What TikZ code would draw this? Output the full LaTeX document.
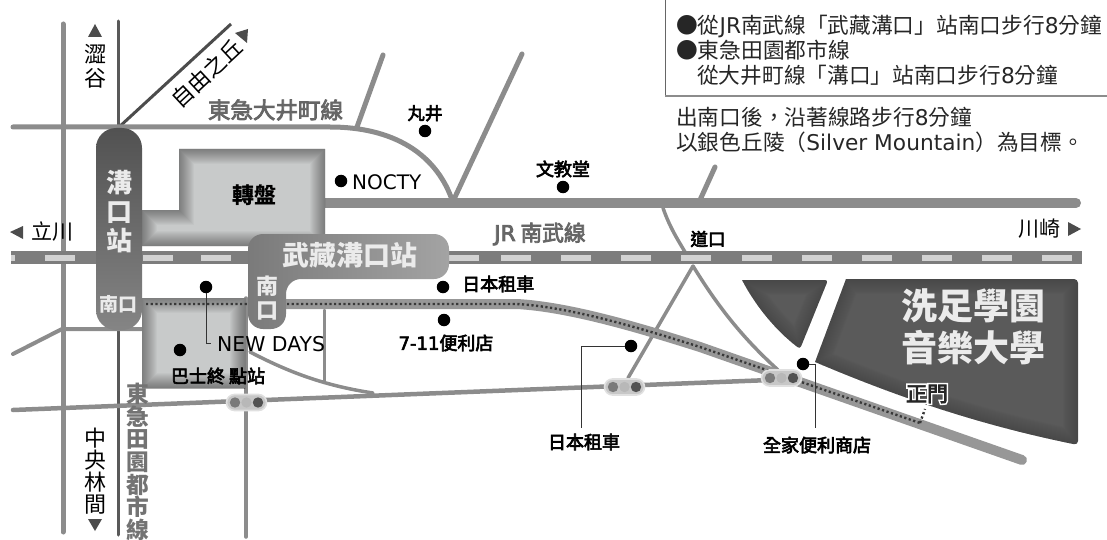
\documentclass[tikz,border=0pt]{standalone}
\usepackage{fontspec}
\setmainfont{Noto Sans CJK TC}
\newfontfamily\medfont[FakeBold=3.5]{Noto Sans CJK TC}
\newfontfamily\halofont[FakeBold=18]{Noto Sans CJK TC}
\newfontfamily\latinfont{DejaVu Sans}
\newfontfamily\latinmed[FakeBold=3.5]{DejaVu Sans}
\usetikzlibrary{positioning}
\definecolor{roadgray}{HTML}{8C8C8C}
\definecolor{linegray}{HTML}{666666}
\definecolor{blockgray}{HTML}{C8CACA}
\definecolor{campus}{HTML}{5A5A5A}
\definecolor{dashgray}{HTML}{D2D2D2}
\newcommand{\fs}[1]{\fontsize{#1}{#1}\selectfont}
\newcommand{\la}[1]{{\latinfont #1}}
% soft dark rim inside a block
\newcommand{\softedge}[2]{%
  \begin{scope}
    \clip #2;
    \foreach \w in {2,4,...,30}{\draw[black,opacity=#1,line width=\w pt] #2;}
  \end{scope}}
\tikzset{
  road/.style={draw=roadgray,line width=5pt,line cap=round},
  thinroad/.style={draw=roadgray,line width=3.5pt,line cap=round},
  walkdots/.style={draw=black!78,line width=2.4pt,dash pattern=on 2.2pt off 2.5pt},
  leader/.style={draw=black!80,line width=0.9pt},
  spot/.style={circle,fill=black,minimum size=12.5pt,inner sep=0pt},
  label/.style={font=\fs{18}\medfont,inner sep=0pt,text=black},
  plain/.style={font=\fs{21.7},inner sep=0pt,anchor=west,text=black!85},
  onblue/.style={font=\fs{26}\bfseries,inner sep=0pt,text=white!92!black,align=center},
  signalbox/.style={draw=black!12,line width=1.6pt,fill=black!22,rounded corners=8pt,
    minimum width=40pt,minimum height=16pt,inner sep=0pt},
}
\begin{document}
\begin{tikzpicture}[x=1pt,y=-1pt]
  \useasboundingbox (0,0) rectangle (1107,540);

  % roads
  \draw[road] (63,24) -- (63,532);
  \draw[thinroad,line width=3pt,draw=black!65] (118,21) -- (118,535);
  \draw[line width=3pt,draw=black!70] (118,128) -- (231,24);
  \draw[road] (13,127) -- (330,127) .. controls (395,127) and (435,155) .. (451,197);
  \draw[road] (383,55) -- (357,127);
  \draw[road] (522,54) -- (455,197);
  \draw[road] (715,167) -- (700,200);
  \draw[road,line width=10pt] (325,203) -- (1076,203);
  \draw[thinroad] (663,208) .. controls (670,228) and (678,240) .. (685,252);
  \draw[thinroad] (693,266) .. controls (720,310) and (745,340) .. (778,370);
  \draw[thinroad] (693,266) -- (628,378);
  \draw[road,line width=4pt] (13,354) -- (62,329) -- (142,329);
  \draw[road,line width=4.5pt] (13,410) -- (770,380);
  \draw[thinroad] (246,298) -- (246,537);
  \draw[thinroad,line width=3pt] (324,310) -- (324,381);
  \draw[thinroad] (250,352) .. controls (285,370) and (320,385) .. (373,393);

  % turntable and bus terminal
  \def\turnpath{(179,149) -- (325,149) -- (325,246) -- (142,246) -- (142,210) -- (179,210) -- cycle}
  \fill[blockgray] \turnpath;
  \softedge{0.026}{\turnpath}
  \def\buspath{(142,298) -- (245,298) -- (245,388) -- (142,388) -- cycle}
  \fill[blockgray] \buspath;
  \softedge{0.026}{\buspath}

  % campus blocks
  \def\wedgepath{[rounded corners=3pt] (742,280) -- (828,280) -- (800,349) [rounded corners=0pt] .. controls (775,330) and (755,305) .. (742,280) -- cycle}
  \fill[campus] \wedgepath;
  \softedge{0.01}{\wedgepath}
  \def\campuspath{[rounded corners=4pt] (846,279) -- (1078,279) -- (1078,445) [rounded corners=0pt] .. controls (980,425) and (900,398) .. (815,362) -- cycle}
  \fill[campus] \campuspath;
  \softedge{0.01}{\campuspath}

  % JR track
  \fill[linegray!85!white] (11,251) rectangle (1082,264);
  \fill[dashgray] (11,254.5) rectangle (15,261);
  \foreach \d in {45,143,201,449,501,561,621,681,742,802,862,922,982,1042}
    {\fill[dashgray] (\d,254.5) rectangle (\d+30,261);}

  % walking route
  \def\walkpath{(517,304) .. controls (570,307) and (640,328) .. (700,347)}
  \draw[road,line width=10pt,draw=roadgray!90!white] (286,304) -- \walkpath -- (1022,460);
  \draw[walkdots] (146,304) -- \walkpath -- (920,423);
  \draw[walkdots] (920,423) -- (925,409);

  % station buildings
  \shade[top color=black!68,bottom color=black!48,rounded corners=20pt] (96,128) rectangle (142,330);
  \shade[left color=black!52,right color=black!36,rounded corners=15pt]
    (248,234) -- (449,234) -- (449,279) -- (286,279) -- (286,329) -- (248,329) -- cycle;

  % signals
  \foreach \n/\sx/\sy in {siga/246.5/402.5,sigb/624.5/387,sigc/781.5/378}{
    \node[signalbox] (\n) at (\sx,\sy) {};
    \fill[black!52] (\n.center) ++(-11.5pt,0) circle (5.2pt);
    \fill[black!28] (\n.center) circle (5.2pt);
    \fill[black!68] (\n.center) ++(11.5pt,0) circle (5.2pt);
  }

  % direction marks
  \fill[black!70] (95,24) -- (88,37) -- (102,37) -- cycle;
  \fill[black!70] (95,531) -- (88,519) -- (102,519) -- cycle;
  \fill[black!70] (10,232) -- (23,226) -- (23,239) -- cycle;
  \fill[black!70] (1081,229) -- (1068,222) -- (1068,236) -- cycle;
  \fill[black!70] (248,29) -- (235,33) -- (247,43) -- cycle;

  \node[label,font=\fs{22},align=center] (shibuya) at (95,66.5) {澀\\[2pt]谷};
  \node[label,font=\fs{22},rotate=43] (jiyu) at (207,73) {自由之丘};
  \node[label,font=\fs{22.5}\medfont,text=linegray] (oimachi) at (275.5,110) {東急大井町線};
  \node[label,font=\fs{21},anchor=west] (tachikawa) at (31,232) {立川};
  \node[label,font=\fs{21},anchor=east] (kawasaki) at (1061,229) {川崎};
  \node[label,font=\fs{22},align=center] (chuo) at (95,471.5) {中\\央\\林\\間};
  \node[label,font=\fs{22.7}\bfseries,text=black!55,align=center] (denen) at (138,462) {東\\急\\田\\園\\都\\市\\線};
  \node[label,font=\fs{21.7}\medfont,text=linegray,anchor=west] (nambu) at (494,234) {{\latinmed JR} 南武線};

  \node[onblue] (mizo) at (119,212) {溝\\[3pt]口\\[3pt]站};
  \node[onblue,font=\fs{19}\bfseries] (south) at (118,304) {南口};
  \node[onblue,font=\fs{27}\bfseries] (musashi) at (350,255) {武藏溝口站};
  \node[onblue,font=\fs{22}\bfseries] (southb) at (267,298) {南\\[2pt]口};
  \node[label,font=\fs{22}\bfseries] (turn) at (254,195) {轉盤};

  \node[onblue,font=\fs{36}\bfseries] (senzoku) at (973,306) {洗足學園};
  \node[onblue,font=\fs{36}\bfseries] (ongaku) at (973,348) {音樂大學};
  \node[font=\fs{21}\halofont,inner sep=0pt,text=white] (gatebg) at (927,394) {正門};
  \node[font=\fs{21}\medfont,inner sep=0pt,text=black!85] (gate) at (927,394) {正門};

  % spots with their names
  \node[spot] (spotmarui) at (425,131) {};
  \node[label,font=\fs{17.5}\medfont,above=3pt of spotmarui] (marui) {丸井};
  \node[spot] (spotbun) at (563,187) {};
  \node[label,above=3pt of spotbun] (bun) {文教堂};
  \node[spot] (spotnoc) at (341,181) {};
  \node[label,font=\fs{20}\latinfont,anchor=west] (nocty) at (352,182) {NOCTY};
  \node[label,font=\fs{17.5}\medfont] (crossing) at (708,239) {道口};
  \node[spot] (spotrent) at (443,287) {};
  \node[label,anchor=west] (rent) at (462,284) {日本租車};
  \node[spot] (spotseven) at (444,320) {};
  \node[label] (seven) at (446,343) {{\latinmed 7-11}便利店};
  \node[spot] (spotnew) at (206,287) {};
  \node[label,font=\fs{20.4}\latinfont,anchor=west] (newdays) at (217,344) {NEW DAYS};
  \node[spot] (spotbus) at (180,350) {};
  \node[label] (bus) at (218,376) {巴士終 點站};
  \node[spot] (spotrentb) at (631,346) {};
  \node[label] (rentb) at (584,442) {日本租車};
  \node[spot] (spotfam) at (803,364) {};
  \node[label] (fam) at (817,445) {全家便利商店};

  \coordinate (newend) at (211,343);
  \coordinate (rentend) at (581,428);
  \coordinate (famend) at (815,428);
  \draw[leader] (spotnew) |- (newend);
  \draw[leader] (spotrentb) -| (rentend);
  \draw[leader] (spotfam) -| (famend);

  % access notes
  \draw[draw=black!60,line width=1pt] (665,0) -- (665,96);
  \draw[draw=black!45,line width=1.6pt] (665,96) -- (1107,96);
  \node[plain] (noteone) at (676,26) {●從\la{JR}南武線「武藏溝口」站南口步行\la{8}分鐘};
  \node[plain] (notetwo) at (676,50) {●東急田園都市線};
  \node[plain] (notethree) at (697,75) {從大井町線「溝口」站南口步行\la{8}分鐘};
  \node[plain] (walkone) at (676,117) {出南口後\symbol{"FF0C}沿著線路步行\la{8}分鐘};
  \node[plain] (walktwo) at (676,142) {以銀色丘陵\symbol{"FF08}\la{Silver Mountain}\symbol{"FF09}為目標。};
\end{tikzpicture}
\end{document}
